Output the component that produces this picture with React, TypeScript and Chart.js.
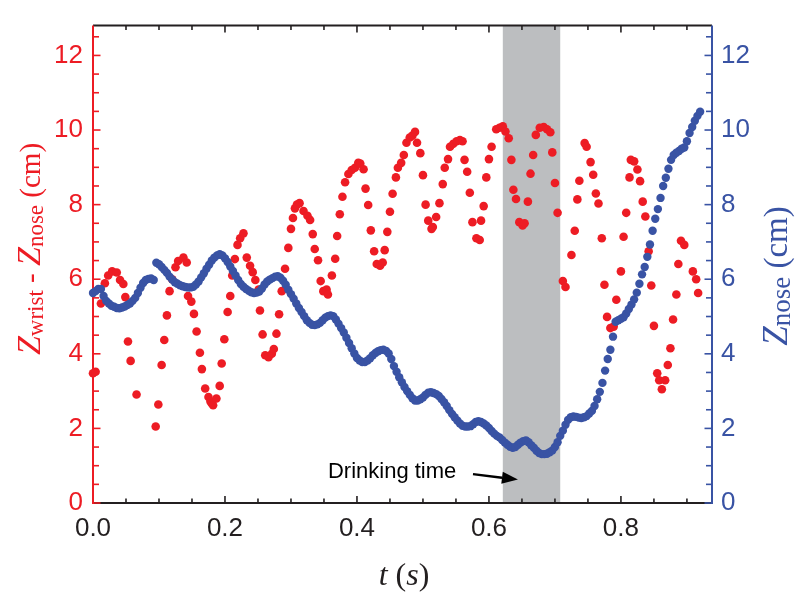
import React, { useEffect, useRef } from "react";
import { Chart, registerables } from "chart.js";

Chart.register(...registerables);

const RED = "#ed1c24";
const BLUE = "#3953a4";
const BAND = "#bcbec0";
const INK = "#231f20";
const TICK_FONT = '"Liberation Sans", Arial, sans-serif';
const SERIF = '"Liberation Serif", "Times New Roman", serif';
const SANS = '"Liberation Sans", Arial, sans-serif';

const X_MIN = 0;
const X_MAX = 0.938;
const X_MINOR = 0.05;
const X_TICKS = [0, 0.2, 0.4, 0.6, 0.8];
const Y_MIN = 0;
const Y_MAX = 12.8;
const Y_MINOR = 0.5;
const Y_TICKS = [0, 2, 4, 6, 8, 10, 12];

const DRINK_START = 0.621;
const DRINK_END = 0.708;
const DRINK_LABEL = "Drinking time";
const DRINK_LABEL_AT = { t: 0.356, z: 0.67 };
const ARROW_FROM = { t: 0.5758, z: 0.774 };
const ARROW_TO = { t: 0.6439, z: 0.627 };

// Z_nose, sampled every BLUE_DT seconds from t = 0
const BLUE_DT = 0.004;
const blueZ = [
  5.63, 5.68, 5.74, 5.74, 5.55, 5.42, 5.35, 5.29, 5.26, 5.23,
  5.22, 5.24, 5.27, 5.31, 5.35, 5.42, 5.5, 5.63, 5.77, 5.9,
  5.98, 6.01, 6.02, 5.98, 6.44, 6.4, 6.33, 6.25, 6.17, 6.07,
  5.99, 5.92, 5.88, 5.84, 5.81, 5.79, 5.78, 5.78, 5.8, 5.86,
  5.94, 6.05, 6.16, 6.28, 6.39, 6.5, 6.58, 6.64, 6.67, 6.64,
  6.56, 6.46, 6.34, 6.22, 6.1, 5.98, 5.87, 5.8, 5.74, 5.69,
  5.65, 5.63, 5.64, 5.67, 5.75, 5.86, 5.94, 5.99, 6.03, 6.07,
  6.08, 6.04, 5.96, 5.85, 5.72, 5.6, 5.48, 5.35, 5.23, 5.12,
  5.01, 4.9, 4.83, 4.78, 4.77, 4.79, 4.83, 4.9, 4.97, 5.01,
  5.03, 5.01, 4.92, 4.81, 4.69, 4.57, 4.43, 4.29, 4.15, 4.01,
  3.89, 3.82, 3.78, 3.78, 3.82, 3.88, 3.96, 4.02, 4.07, 4.1,
  4.11, 4.08, 4.01, 3.86, 3.67, 3.52, 3.37, 3.24, 3.11, 3.0,
  2.9, 2.81, 2.75, 2.75, 2.78, 2.83, 2.9, 2.96, 2.97, 2.95,
  2.92, 2.87, 2.79, 2.7, 2.6, 2.49, 2.39, 2.3, 2.21, 2.13,
  2.07, 2.05, 2.05, 2.06, 2.11, 2.17, 2.19, 2.17, 2.13, 2.08,
  2.01, 1.93, 1.86, 1.8, 1.76, 1.69, 1.62, 1.56, 1.51, 1.48,
  1.5, 1.56, 1.62, 1.66, 1.68, 1.63, 1.55, 1.48, 1.4, 1.34,
  1.31, 1.31, 1.32, 1.36, 1.41, 1.5, 1.63, 1.8, 1.94, 2.1,
  2.23, 2.3, 2.32, 2.31, 2.29, 2.28, 2.3, 2.33, 2.4, 2.47,
  2.6, 2.78, 2.98, 3.22, 3.55, 3.86, 4.11, 4.46, 4.86, 4.9,
  4.94, 4.98, 5.08, 5.2, 5.32, 5.46, 5.64, 5.88, 6.13, 6.33,
  6.6, 6.93, 7.3, 7.62, 7.88, 8.18, 8.5, 8.72, 8.96, 9.2,
  9.33, 9.39, 9.44, 9.5, 9.53, 9.7, 9.92, 10.08, 10.25, 10.38,
  10.49,
];

// Z_wrist - Z_nose
const redT = [
  0, 0.004, 0.012, 0.018, 0.023, 0.029, 0.036, 0.041, 0.046, 0.049,
  0.053, 0.057, 0.066, 0.095, 0.099, 0.104, 0.108, 0.112, 0.116, 0.12,
  0.125, 0.129, 0.137, 0.142, 0.144, 0.149, 0.153, 0.157, 0.162, 0.165,
  0.17, 0.175, 0.178, 0.18, 0.182, 0.187, 0.192, 0.195, 0.199, 0.204,
  0.208, 0.211, 0.215, 0.219, 0.223, 0.228, 0.233, 0.238, 0.242, 0.246,
  0.251, 0.253, 0.257, 0.261, 0.266, 0.271, 0.274, 0.278, 0.282, 0.286,
  0.291, 0.296, 0.3, 0.303, 0.306, 0.309, 0.313, 0.319, 0.325, 0.329,
  0.333, 0.336, 0.341, 0.345, 0.349, 0.354, 0.356, 0.362, 0.367, 0.37,
  0.374, 0.378, 0.382, 0.387, 0.392, 0.397, 0.402, 0.405, 0.41, 0.413,
  0.417, 0.421, 0.426, 0.43, 0.435, 0.439, 0.442, 0.446, 0.45, 0.454,
  0.459, 0.462, 0.467, 0.471, 0.475, 0.48, 0.484, 0.488, 0.491, 0.496,
  0.5, 0.504, 0.508, 0.513, 0.515, 0.52, 0.525, 0.53, 0.533, 0.538,
  0.541, 0.546, 0.551, 0.556, 0.56, 0.563, 0.567, 0.571, 0.575, 0.581,
  0.586, 0.588, 0.592, 0.596, 0.6, 0.604, 0.611, 0.616, 0.621, 0.625,
  0.63, 0.634, 0.637, 0.641, 0.646, 0.651, 0.654, 0.659, 0.663, 0.667,
  0.671, 0.677, 0.683, 0.688, 0.693, 0.696, 0.7, 0.704, 0.712, 0.716,
  0.725, 0.73, 0.734, 0.737, 0.745, 0.748, 0.754, 0.758, 0.762, 0.766,
  0.771, 0.775, 0.779, 0.784, 0.789, 0.793, 0.8, 0.804, 0.808, 0.813,
  0.815, 0.82, 0.825, 0.829, 0.833, 0.837, 0.842, 0.846, 0.85, 0.855,
  0.858, 0.862, 0.867, 0.871, 0.875, 0.879, 0.884, 0.887, 0.891, 0.896,
  0.909, 0.914, 0.917,
];
const redZ = [
  3.48, 3.52, 5.35, 5.89, 6.1, 6.21, 6.18, 5.98, 5.87, 5.52,
  4.33, 3.81, 2.91, 2.05, 2.64, 3.7, 4.37, 5.03, 5.68, 6.0,
  6.32, 6.49, 6.58, 6.45, 5.55, 5.4, 5.07, 4.6, 4.03, 3.59,
  3.07, 2.84, 2.72, 2.67, 2.62, 2.8, 3.14, 3.74, 4.39, 5.12,
  5.55, 6.1, 6.54, 6.92, 7.1, 7.23, 6.58, 6.36, 6.19, 5.98,
  5.72, 5.16, 4.52, 3.96, 3.91, 4.0, 4.13, 4.54, 5.06, 5.68,
  6.28, 6.84, 7.35, 7.64, 7.9, 8.0, 8.04, 7.83, 7.7, 7.59,
  7.21, 6.81, 6.51, 5.95, 5.68, 5.72, 5.59, 6.1, 6.55, 7.16,
  7.74, 8.21, 8.6, 8.82, 8.93, 8.99, 9.12, 9.1, 8.95, 8.43,
  7.99, 7.31, 6.75, 6.41, 6.36, 6.45, 6.78, 7.27, 7.81, 8.29,
  8.73, 8.99, 9.12, 9.33, 9.66, 9.8, 9.85, 9.95, 9.66, 9.38,
  8.79, 8.0, 7.57, 7.35, 7.4, 7.67, 8.04, 8.55, 8.99, 9.22,
  9.55, 9.63, 9.7, 9.73, 9.7, 9.2, 8.88, 8.32, 7.53, 7.1,
  7.05, 7.57, 7.96, 8.73, 9.22, 9.55, 10.02, 10.06, 10.1, 9.96,
  9.78, 9.2, 8.4, 8.15, 7.53, 7.44, 7.5, 8.08, 8.83, 9.33,
  9.87, 10.06, 10.08, 10.02, 9.94, 9.4, 8.58, 7.78, 5.95, 5.79,
  6.65, 7.3, 8.14, 8.64, 9.65, 9.55, 9.14, 8.8, 8.3, 8.03,
  7.1, 5.85, 4.99, 4.69, 4.73, 5.45, 6.21, 7.14, 7.78, 8.73,
  9.2, 9.16, 8.94, 8.63, 8.08, 7.68, 6.75, 5.83, 4.75, 3.48,
  3.29, 3.05, 3.29, 3.7, 4.15, 4.92, 5.59, 6.41, 7.03, 6.92,
  6.21, 6.0, 5.63,
];

type Part = { text: string; font: string; dy?: number };

function drawRich(ctx: CanvasRenderingContext2D, parts: Part[], x: number, y: number, rot: number, color: string) {
  ctx.save();
  ctx.translate(x, y);
  ctx.rotate(rot);
  ctx.fillStyle = color;
  ctx.textBaseline = "alphabetic";
  ctx.textAlign = "left";
  let total = 0;
  const widths = parts.map((p) => {
    ctx.font = p.font;
    const w = ctx.measureText(p.text).width;
    total += w;
    return w;
  });
  let cx = -total / 2;
  parts.forEach((p, i) => {
    ctx.font = p.font;
    ctx.fillText(p.text, cx, p.dy || 0);
    cx += widths[i];
  });
  ctx.restore();
}

const isIn = (v: number, list: number[]) => list.some((m) => Math.abs(m - v) < 1e-6);

const decor = {
  id: "decor",
  beforeDatasetsDraw(chart: any) {
    const { ctx, chartArea: a, scales } = chart;
    const x = scales.x;
    const y = scales.y;
    const y2 = scales.y2;
    ctx.save();
    // drinking-time band
    const bx0 = x.getPixelForValue(DRINK_START);
    const bx1 = x.getPixelForValue(DRINK_END);
    ctx.fillStyle = BAND;
    ctx.fillRect(bx0, a.top, bx1 - bx0, a.bottom - a.top);

    const seg = (x0: number, y0: number, x1: number, y1: number) => {
      ctx.beginPath();
      ctx.moveTo(x0, y0);
      ctx.lineTo(x1, y1);
      ctx.stroke();
    };

    // frame top/bottom (black)
    ctx.strokeStyle = INK;
    ctx.lineWidth = 2;
    seg(a.left, a.bottom, a.right, a.bottom);
    seg(a.left, a.top, a.right, a.top);
    // x ticks (inside, bottom and top)
    ctx.lineWidth = 1.6;
    for (let k = 1; ; k++) {
      const v = k * X_MINOR;
      if (v > X_MAX + 1e-9) break;
      const px = x.getPixelForValue(v);
      const len = isIn(v, X_TICKS) ? 7 : 4.5;
      seg(px, a.bottom, px, a.bottom - len);
      seg(px, a.top, px, a.top + len);
    }
    // left axis (red)
    ctx.strokeStyle = RED;
    ctx.lineWidth = 2;
    seg(a.left, a.top, a.left, a.bottom + 1);
    ctx.lineWidth = 1.6;
    for (let k = 0; ; k++) {
      const v = k * Y_MINOR;
      if (v > Y_MAX + 1e-9) break;
      const py = y.getPixelForValue(v);
      const len = isIn(v, Y_TICKS) ? 7.5 : 6;
      seg(a.left, py, a.left + len, py);
    }
    // right axis (blue)
    ctx.strokeStyle = BLUE;
    ctx.lineWidth = 2;
    seg(a.right, a.top, a.right, a.bottom + 1);
    ctx.lineWidth = 1.6;
    for (let k = 0; ; k++) {
      const v = k * Y_MINOR;
      if (v > Y_MAX + 1e-9) break;
      const py = y2.getPixelForValue(v);
      const len = isIn(v, Y_TICKS) ? 7.5 : 6;
      seg(a.right, py, a.right - len, py);
    }
    ctx.restore();
  },
  afterDraw(chart: any) {
    const { ctx, scales } = chart;
    const x = scales.x;
    const y = scales.y;
    // axis titles
    drawRich(
      ctx,
      [
        { text: "Z", font: `italic 34px ${SERIF}` },
        { text: "wrist", font: `23px ${SERIF}`, dy: 3 },
        { text: " - ", font: `29px ${SERIF}` },
        { text: "Z", font: `italic 34px ${SERIF}` },
        { text: "nose", font: `23px ${SERIF}`, dy: 3 },
        { text: " (cm)", font: `29px ${SERIF}` },
      ],
      40,
      249,
      -Math.PI / 2,
      RED
    );
    drawRich(
      ctx,
      [
        { text: "Z", font: `italic 35px ${SERIF}` },
        { text: "nose", font: `27px ${SERIF}`, dy: 3 },
        { text: " (cm)", font: `33px ${SERIF}` },
      ],
      787,
      276,
      -Math.PI / 2,
      BLUE
    );
    drawRich(
      ctx,
      [
        { text: "t", font: `italic 32px ${SERIF}` },
        { text: " (", font: `32px ${SERIF}` },
        { text: "s", font: `italic 32px ${SERIF}` },
        { text: ")", font: `32px ${SERIF}` },
      ],
      404,
      585,
      0,
      INK
    );
    // annotation
    ctx.save();
    ctx.fillStyle = "#000";
    ctx.font = `22px ${SANS}`;
    ctx.textBaseline = "alphabetic";
    ctx.textAlign = "left";
    ctx.fillText(DRINK_LABEL, x.getPixelForValue(DRINK_LABEL_AT.t), y.getPixelForValue(DRINK_LABEL_AT.z));
    const ax0 = x.getPixelForValue(ARROW_FROM.t);
    const ay0 = y.getPixelForValue(ARROW_FROM.z);
    const ax1 = x.getPixelForValue(ARROW_TO.t);
    const ay1 = y.getPixelForValue(ARROW_TO.z);
    const ang = Math.atan2(ay1 - ay0, ax1 - ax0);
    const headLen = 16;
    const headW = 6;
    const bx = ax1 - headLen * Math.cos(ang);
    const by = ay1 - headLen * Math.sin(ang);
    ctx.strokeStyle = "#000";
    ctx.lineWidth = 2.5;
    ctx.beginPath();
    ctx.moveTo(ax0, ay0);
    ctx.lineTo(bx, by);
    ctx.stroke();
    ctx.beginPath();
    ctx.moveTo(ax1, ay1);
    ctx.lineTo(bx + headW * Math.sin(ang), by - headW * Math.cos(ang));
    ctx.lineTo(bx - headW * Math.sin(ang), by + headW * Math.cos(ang));
    ctx.closePath();
    ctx.fill();
    ctx.restore();
  },
};

export default function App() {
  const ref = useRef<HTMLCanvasElement | null>(null);
  useEffect(() => {
    document.body.style.margin = "0";
    const canvas = ref.current;
    if (!canvas) return;
    const bluePts = blueZ.map((v, i) => ({ x: i * BLUE_DT, y: v }));
    const redPts = redT.map((t, i) => ({ x: t, y: redZ[i] }));
    const chart = new Chart(canvas, {
      type: "scatter",
      data: {
        datasets: [
          {
            label: "Znose",
            data: bluePts,
            yAxisID: "y2",
            backgroundColor: BLUE,
            borderWidth: 0,
            pointRadius: 4.2,
            clip: false,
            order: 0,
          },
          {
            label: "Zwrist - Znose",
            data: redPts,
            yAxisID: "y",
            backgroundColor: RED,
            borderWidth: 0,
            pointRadius: 4.3,
            clip: false,
            order: 1,
          },
        ],
      },
      plugins: [decor],
      options: {
        responsive: false,
        animation: false,
        devicePixelRatio: 1,
        layout: { padding: { top: 7, left: 0, right: 0, bottom: 0 } },
        plugins: { legend: { display: false }, tooltip: { enabled: false } },
        scales: {
          x: {
            type: "linear",
            position: "bottom",
            min: X_MIN,
            max: X_MAX,
            grid: { display: false, drawTicks: false },
            border: { display: false },
            ticks: {
              color: INK,
              padding: 10,
              autoSkip: false,
              maxRotation: 0,
              font: { family: TICK_FONT, size: 26 },
              callback: (v: any) => Number(v).toFixed(1),
            },
            afterBuildTicks: (s: any) => {
              s.ticks = X_TICKS.map((v) => ({ value: v }));
            },
            afterFit: (s: any) => {
              s.height = 93;
            },
          },
          y: {
            type: "linear",
            position: "left",
            min: Y_MIN,
            max: Y_MAX,
            grid: { display: false, drawTicks: false },
            border: { display: false },
            ticks: {
              color: RED,
              padding: 10,
              autoSkip: false,
              font: { family: TICK_FONT, size: 26 },
              callback: (v: any) => String(v),
            },
            afterBuildTicks: (s: any) => {
              s.ticks = Y_TICKS.map((v) => ({ value: v }));
            },
            afterFit: (s: any) => {
              s.width = 93;
            },
          },
          y2: {
            type: "linear",
            position: "right",
            min: Y_MIN,
            max: Y_MAX,
            grid: { display: false, drawTicks: false },
            border: { display: false },
            ticks: {
              color: BLUE,
              padding: 9,
              autoSkip: false,
              font: { family: TICK_FONT, size: 26 },
              callback: (v: any) => String(v),
            },
            afterBuildTicks: (s: any) => {
              s.ticks = Y_TICKS.map((v) => ({ value: v }));
            },
            afterFit: (s: any) => {
              s.width = 83;
            },
          },
        },
      },
    } as any);
    return () => chart.destroy();
  }, []);
  return (
    <div style={{ width: 795, height: 596 }}>
      <canvas ref={ref} width={795} height={596} style={{ display: "block" }} />
    </div>
  );
}
